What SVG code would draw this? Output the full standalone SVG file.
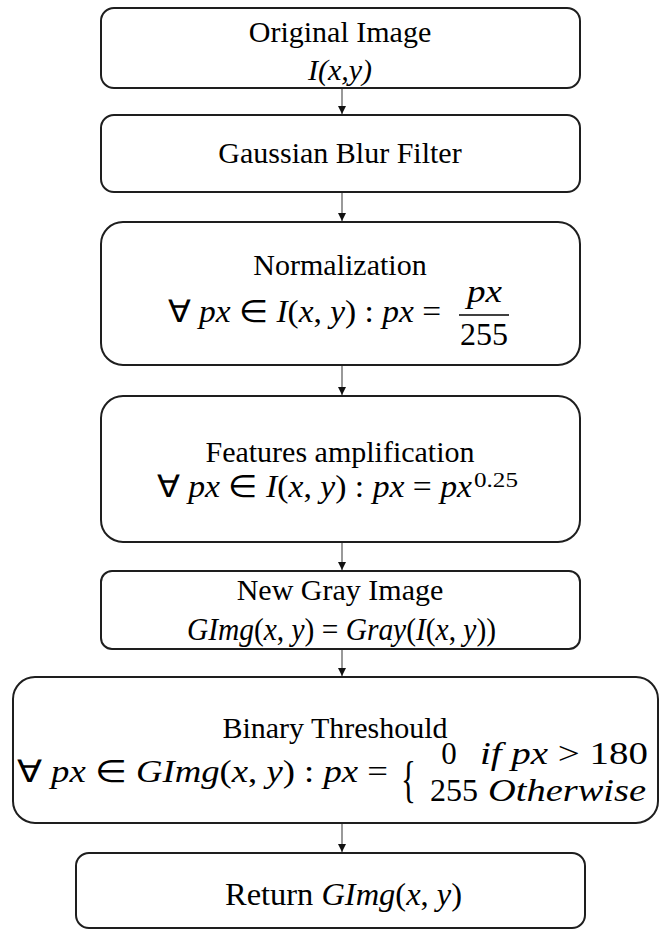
<svg xmlns="http://www.w3.org/2000/svg" width="662" height="932" viewBox="0 0 662 932">
  <defs>
    <style>
      .box { fill: #ffffff; stroke: #1e1e1e; stroke-width: 2; }
      .t { font-family: "Liberation Serif", "Times New Roman", serif; font-size: 30px; fill: #000; }
      .c { text-anchor: middle; }
      .m { font-family: "Liberation Serif", "Times New Roman", serif; font-size: 31px; fill: #000; }
      .i { font-style: italic; }
      .sup { font-size: 20px; }
      .link { stroke: #555555; stroke-width: 1.2; fill: none; marker-end: url(#arrow); }
    </style>
    <marker id="arrow" viewBox="0 0 10 10" refX="10" refY="5" markerWidth="8" markerHeight="8" markerUnits="userSpaceOnUse" orient="auto">
      <path d="M0,0 L10,5 L0,10 Z" fill="#111111"/>
    </marker>
  </defs>
  <rect width="662" height="932" fill="#ffffff"/>

  <!-- connectors -->
  <g id="connectors">
    <line class="link" x1="342" y1="89" x2="342" y2="114"/>
    <line class="link" x1="342" y1="193" x2="342" y2="221"/>
    <line class="link" x1="342" y1="366" x2="342" y2="395"/>
    <line class="link" x1="342" y1="543" x2="342" y2="570"/>
    <line class="link" x1="342" y1="650" x2="342" y2="676"/>
    <line class="link" x1="342" y1="824" x2="342" y2="852"/>
  </g>

  <!-- step 1 -->
  <g id="original-image">
    <rect class="box" x="101" y="8" width="479" height="80" rx="13"/>
    <text class="t c" x="340" y="42">Original Image</text>
    <text class="t c i" x="340" y="80">I(x,y)</text>
  </g>

  <!-- step 2 -->
  <g id="gaussian-blur">
    <rect class="box" x="101" y="115" width="479" height="77" rx="13"/>
    <text class="t c" x="340" y="163">Gaussian Blur Filter</text>
  </g>

  <!-- step 3 -->
  <g id="normalization">
    <rect class="box" x="101" y="222" width="479" height="143" rx="22"/>
    <text class="t c" x="340" y="275">Normalization</text>
    <text class="m" x="168" y="322" textLength="273" lengthAdjust="spacingAndGlyphs">∀ <tspan class="i">px</tspan> ∈ <tspan class="i">I</tspan>(<tspan class="i">x</tspan>, <tspan class="i">y</tspan>) : <tspan class="i">px</tspan> =</text>
    <text class="m i" x="467" y="302" textLength="35" lengthAdjust="spacingAndGlyphs">px</text>
    <line x1="459" y1="315" x2="509" y2="315" stroke="#000" stroke-width="1.6"/>
    <text class="m" x="460" y="345" textLength="48" lengthAdjust="spacingAndGlyphs">255</text>
  </g>

  <!-- step 4 -->
  <g id="features-amplification">
    <rect class="box" x="101" y="396" width="479" height="146" rx="22"/>
    <text class="t c" x="340" y="462">Features amplification</text>
    <text class="m" x="157" y="497" textLength="315" lengthAdjust="spacingAndGlyphs">∀ <tspan class="i">px</tspan> ∈ <tspan class="i">I</tspan>(<tspan class="i">x</tspan>, <tspan class="i">y</tspan>) : <tspan class="i">px</tspan> = <tspan class="i">px</tspan></text>
    <text class="m sup" x="474" y="487" textLength="44" lengthAdjust="spacingAndGlyphs">0.25</text>
  </g>

  <!-- step 5 -->
  <g id="gray-image">
    <rect class="box" x="101" y="571" width="479" height="78" rx="11"/>
    <text class="t c" x="340" y="600">New Gray Image</text>
    <text class="m" x="187" y="640" textLength="309" lengthAdjust="spacingAndGlyphs"><tspan class="i">GImg</tspan>(<tspan class="i">x</tspan>, <tspan class="i">y</tspan>) = <tspan class="i">Gray</tspan>(<tspan class="i">I</tspan>(<tspan class="i">x</tspan>, <tspan class="i">y</tspan>))</text>
  </g>

  <!-- step 6 -->
  <g id="binary-threshold">
    <rect class="box" x="13" y="677" width="645" height="146" rx="22"/>
    <text class="t c" x="335" y="738">Binary Threshould</text>
    <text class="m" x="17" y="782" textLength="371" lengthAdjust="spacingAndGlyphs">∀ <tspan class="i">px</tspan> ∈ <tspan class="i">GImg</tspan>(<tspan class="i">x</tspan>, <tspan class="i">y</tspan>) : <tspan class="i">px</tspan> =</text>
    <text class="m" transform="translate(401,796) scale(1,1.65)">{</text>
    <text class="m c" x="449" y="764">0</text>
    <text class="m" x="480" y="764" textLength="168" lengthAdjust="spacingAndGlyphs"><tspan class="i">if px</tspan> &gt; 180</text>
    <text class="m" x="430" y="801" textLength="48" lengthAdjust="spacingAndGlyphs">255</text>
    <text class="m i" x="488" y="801" textLength="158" lengthAdjust="spacingAndGlyphs">Otherwise</text>
  </g>

  <!-- step 7 -->
  <g id="return">
    <rect class="box" x="76" y="853" width="509" height="75" rx="13"/>
    <text class="m" x="225" y="905" textLength="237" lengthAdjust="spacingAndGlyphs">Return <tspan class="i">GImg</tspan>(<tspan class="i">x</tspan>, <tspan class="i">y</tspan>)</text>
  </g>
</svg>
